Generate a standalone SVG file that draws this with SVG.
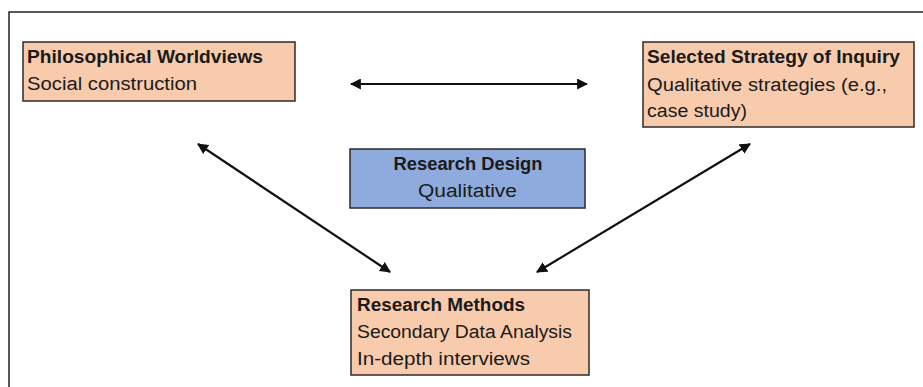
<svg xmlns="http://www.w3.org/2000/svg" width="923" height="387" viewBox="0 0 923 387">
<style>
  .peach { fill: #F8CBAD; stroke: #2b2b2b; stroke-width: 1.5; }
  .blue { fill: #8FAADC; stroke: #2b2b2b; stroke-width: 1.5; }
  text { font-family: "Liberation Sans", Arial, sans-serif; font-size: 18px; fill: #1a1a1a; }
  .b { font-weight: bold; }
  .conn { stroke: #111; stroke-width: 2.2; fill: none; marker-start: url(#ah); marker-end: url(#ah); }
</style>
<defs>
  <marker id="ah" viewBox="0 0 10 10" refX="9" refY="5" markerWidth="5" markerHeight="5" orient="auto-start-reverse" markerUnits="strokeWidth">
    <path d="M0,0 L10,5 L0,10 z" fill="#111"/>
  </marker>
</defs>
<rect x="9" y="12" width="940" height="420" fill="#fff" stroke="#222" stroke-width="1.5"/>
<g id="philosophical">
  <rect class="peach" x="23" y="42" width="272" height="59"/>
  <text class="b" x="27" y="63" textLength="236" lengthAdjust="spacingAndGlyphs">Philosophical Worldviews</text>
  <text x="27" y="90" textLength="170" lengthAdjust="spacingAndGlyphs">Social construction</text>
</g>
<g id="strategy">
  <rect class="peach" x="643" y="42" width="271" height="85"/>
  <text class="b" x="647" y="63" textLength="253" lengthAdjust="spacingAndGlyphs">Selected Strategy of Inquiry</text>
  <text x="647" y="90.5" textLength="240" lengthAdjust="spacingAndGlyphs">Qualitative strategies (e.g.,</text>
  <text x="647" y="117" textLength="100" lengthAdjust="spacingAndGlyphs">case study)</text>
</g>
<g id="design">
  <rect class="blue" x="350" y="149" width="235" height="59"/>
  <text class="b" x="393.5" y="170" textLength="149" lengthAdjust="spacingAndGlyphs">Research Design</text>
  <text x="418" y="197" textLength="99" lengthAdjust="spacingAndGlyphs">Qualitative</text>
</g>
<g id="methods">
  <rect class="peach" x="351" y="290" width="238" height="85"/>
  <text class="b" x="357" y="311" textLength="168" lengthAdjust="spacingAndGlyphs">Research Methods</text>
  <text x="357" y="338" textLength="215" lengthAdjust="spacingAndGlyphs">Secondary Data Analysis</text>
  <text x="357" y="365" textLength="173" lengthAdjust="spacingAndGlyphs">In-depth interviews</text>
</g>
<g id="connectors">
  <line class="conn" x1="351" y1="84" x2="587" y2="84"/>
  <line class="conn" x1="198" y1="144" x2="390" y2="272"/>
  <line class="conn" x1="750" y1="144" x2="537" y2="272"/>
</g>
</svg>
